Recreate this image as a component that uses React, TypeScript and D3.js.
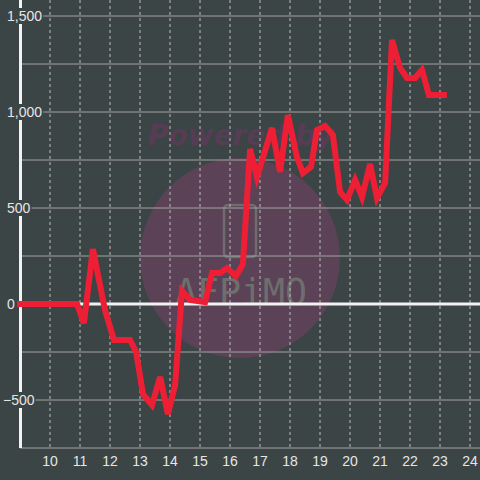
import React, { useEffect, useRef } from "react";
import * as d3 from "d3";

const times = [8.9, 10.9, 11.13, 11.43, 11.83, 12.13, 12.67, 12.87, 13.1, 13.4, 13.67, 13.93, 14.17, 14.4, 14.67, 15.17, 15.4, 15.67, 15.9, 16.2, 16.43, 16.67, 16.9, 17.4, 17.67, 17.93, 18.23, 18.43, 18.7, 18.9, 19.17, 19.43, 19.67, 19.9, 20.17, 20.4, 20.67, 20.9, 21.17, 21.4, 21.67, 21.9, 22.17, 22.4, 22.63, 23.23];
const values = [0, 0, -100, 286, -30, -187, -187, -250, -470, -526, -380, -573, -422, 68, 21, 10, 161, 161, 187, 146, 208, 807, 661, 917, 688, 984, 766, 682, 714, 906, 927, 880, 583, 542, 646, 557, 729, 552, 630, 1375, 1229, 1177, 1177, 1219, 1089, 1089];
const xTicks = [10, 11, 12, 13, 14, 15, 16, 17, 18, 19, 20, 21, 22, 23, 24];
const yLabelTicks = [-500, 0, 500, 1000, 1500];
const yGridTicks = [-750, -500, -250, 250, 500, 750, 1000, 1250, 1500];

const W = 480;
const H = 480;
const BG = "#3c4545";

export default function App() {
  const ref = useRef<SVGSVGElement | null>(null);
  useEffect(() => {
    const svg = d3.select(ref.current);
    svg.selectAll("*").remove();
    const x = d3.scaleLinear().domain([9, 24]).range([20, 470]);
    const y = d3.scaleLinear().domain([-750, 1500]).range([448, 16]);

    svg.append("rect").attr("width", W).attr("height", H).attr("fill", BG);

    // watermark
    const wm = svg.append("g");
    wm.append("circle").attr("cx", 240).attr("cy", 258).attr("r", 100).attr("fill", "#5b4256");
    wm.append("text")
      .attr("x", 148).attr("y", 145)
      .attr("font-family", "DejaVu Sans").attr("font-weight", "bold").attr("font-style", "italic")
      .attr("font-size", 28).attr("fill", "#573c56").text("Powered by");
    wm.append("rect").attr("x", 224).attr("y", 205).attr("width", 32).attr("height", 52).attr("rx", 4)
      .attr("fill", "none").attr("stroke", "#6e6e6e").attr("stroke-width", 2.5);
    wm.append("text")
      .attr("x", 175).attr("y", 305)
      .attr("font-family", "DejaVu Sans Mono").attr("font-size", 38)
      .attr("textLength", 132).attr("lengthAdjust", "spacingAndGlyphs")
      .attr("fill", "#6e6e6e").text("AFPiMO");

    // vertical dashed grid
    svg.append("g").selectAll("line").data(xTicks).join("line")
      .attr("x1", (d) => x(d)).attr("x2", (d) => x(d))
      .attr("y1", 0).attr("y2", 448)
      .attr("stroke", "#bdbdbd").attr("stroke-width", 1).attr("stroke-dasharray", "3,3");

    // horizontal grid
    svg.append("g").selectAll("line").data(yGridTicks).join("line")
      .attr("x1", 20).attr("x2", W)
      .attr("y1", (d) => y(d)).attr("y2", (d) => y(d))
      .attr("stroke", "#a3a3a3").attr("stroke-width", 1);

    // zero line
    svg.append("line").attr("x1", 20).attr("x2", W).attr("y1", y(0)).attr("y2", y(0))
      .attr("stroke", "#f2f2f2").attr("stroke-width", 3);

    // y axis
    svg.append("line").attr("x1", 20.5).attr("x2", 20.5).attr("y1", 0).attr("y2", 448)
      .attr("stroke", "#f2f2f2").attr("stroke-width", 3);

    // y labels with background
    const fmt = d3.format(",");
    const yl = svg.append("g");
    yLabelTicks.forEach((v) => {
      const g = yl.append("g");
      const t = g.append("text")
        .attr("x", v < 0 ? 3 : 7).attr("y", y(v) + 5)
        .attr("font-family", "Liberation Sans, Arial, sans-serif").attr("font-size", 14)
        .attr("fill", "#e6e6e6").text(fmt(v));
      const bb = (t.node() as SVGTextElement).getBBox();
      g.insert("rect", "text").attr("x", bb.x - 1).attr("y", bb.y).attr("width", bb.width + 2)
        .attr("height", bb.height).attr("fill", BG);
    });

    // x labels
    svg.append("g").selectAll("text").data(xTicks).join("text")
      .attr("x", (d) => x(d)).attr("y", 466).attr("text-anchor", "middle")
      .attr("font-family", "Liberation Sans, Arial, sans-serif").attr("font-size", 14)
      .attr("fill", "#e6e6e6").text((d) => String(d));

    // series line
    const pts = times.map((t, i) => [t, values[i]] as [number, number]);
    const line = d3.line<[number, number]>().x((d) => x(d[0])).y((d) => y(d[1]));
    svg.append("path").attr("d", line(pts)).attr("fill", "none")
      .attr("stroke", "#ee1f35").attr("stroke-width", 6).attr("stroke-linejoin", "miter")
      .attr("stroke-miterlimit", 4);
  }, []);
  return (
    <svg ref={ref} width={W} height={H} style={{ position: "fixed", left: 0, top: 0 }} />
  );
}
